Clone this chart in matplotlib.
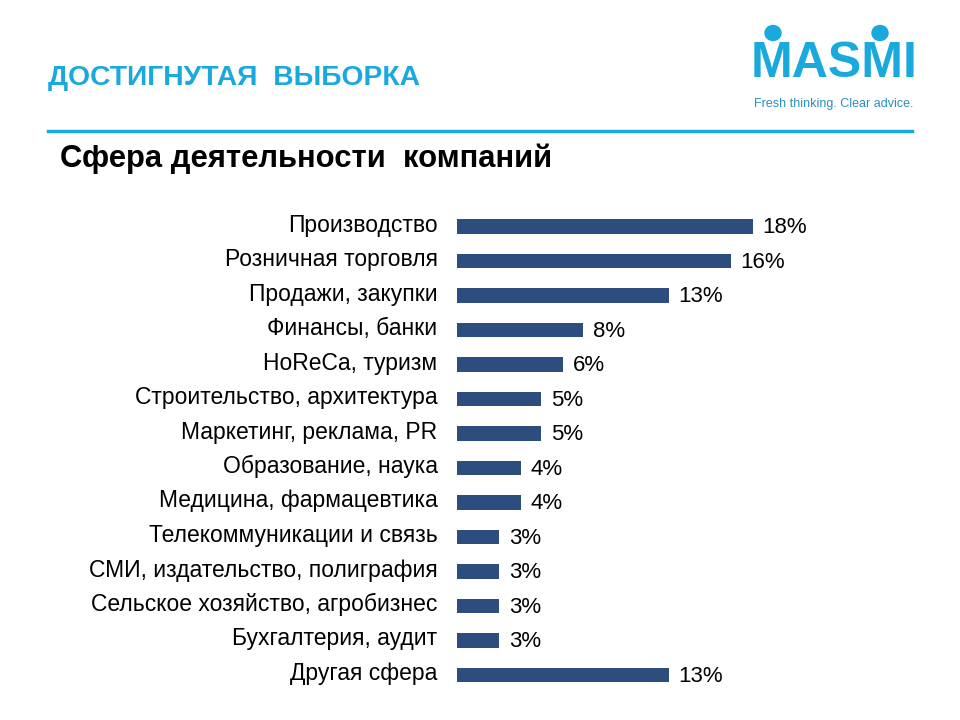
import matplotlib.pyplot as plt
from matplotlib.patches import Ellipse
from matplotlib.transforms import ScaledTranslation

plt.rcParams['font.family'] = ['Liberation Sans', 'DejaVu Sans']

# data (bar lengths estimated, labels as printed)
categories = [
    "Производство",
    "Розничная торговля",
    "Продажи, закупки",
    "Финансы, банки",
    "HoReCa, туризм",
    "Строительство, архитектура",
    "Маркетинг, реклама, PR",
    "Образование, наука",
    "Медицина, фармацевтика",
    "Телекоммуникации и связь",
    "СМИ, издательство, полиграфия",
    "Сельское хозяйство, агробизнес",
    "Бухгалтерия, аудит",
    "Другая сфера",
]
shares = [17.6, 16.3, 12.6, 7.5, 6.3, 5.0, 5.0, 3.8, 3.8, 2.5, 2.5, 2.5, 2.5, 12.6]
share_labels = ["18%", "16%", "13%", "8%", "6%", "5%", "5%", "4%", "4%",
                "3%", "3%", "3%", "3%", "13%"]

BLUE = '#1aa9dd'
NAVY = '#2d4d7e'

fig = plt.figure(figsize=(9.6, 7.2), dpi=100)

# header
fig.text(48 / 960, 1 - 78 / 720, "ДОСТИГНУТАЯ  ВЫБОРКА", color=BLUE,
         fontsize=20.3, fontweight='bold', va='center', ha='left')
fig.add_artist(plt.Line2D([48 / 960, 912 / 960], [1 - 131 / 720, 1 - 131 / 720],
                          color=BLUE, lw=2.5))
fig.text(60 / 960, 1 - 159 / 720, "Сфера деятельности  компаний", color='black',
         fontsize=22.3, fontweight='bold', va='center', ha='left')

# logo
fig.text(834 / 960, 1 - 64 / 720, "MASMI", color=BLUE, fontsize=36,
         fontweight='bold', va='center', ha='center')
for cx in (773, 880):
    fig.add_artist(Ellipse((cx / 960, 1 - 33 / 720), 16 / 960, 15 / 720,
                           color=BLUE, transform=fig.transFigure))
fig.text(834 / 960, 1 - 104 / 720, "Fresh thinking. Clear advice.", color='#2a8fc0',
         fontsize=9, va='center', ha='center')

# bar chart
ax = fig.add_axes([457 / 960, 27.75 / 720, 400 / 960, 483 / 720])
y = list(range(len(categories)))
bars = ax.barh(y, shares, height=0.41, color=NAVY)
ax.set_xlim(0, 400 / 16.8)
ax.set_ylim(len(categories) - 0.5, -0.5)
ax.set_yticks(y)
ax.set_yticklabels(categories, fontsize=16.5)
ax.tick_params(axis='y', length=0, pad=14)
ax.set_xticks([])
for s in ax.spines.values():
    s.set_visible(False)

# category labels sit a little above the bar centres on the slide
lift = ScaledTranslation(0, 4 / 100, fig.dpi_scale_trans)
for t in ax.get_yticklabels():
    t.set_transform(t.get_transform() + lift)

for b, lab in zip(bars, share_labels):
    ax.annotate(lab, (b.get_width(), b.get_y() + b.get_height() / 2),
                xytext=(7, -1), textcoords='offset points',
                va='center', ha='left', fontsize=16)

fig.savefig('out.png', dpi=100)
